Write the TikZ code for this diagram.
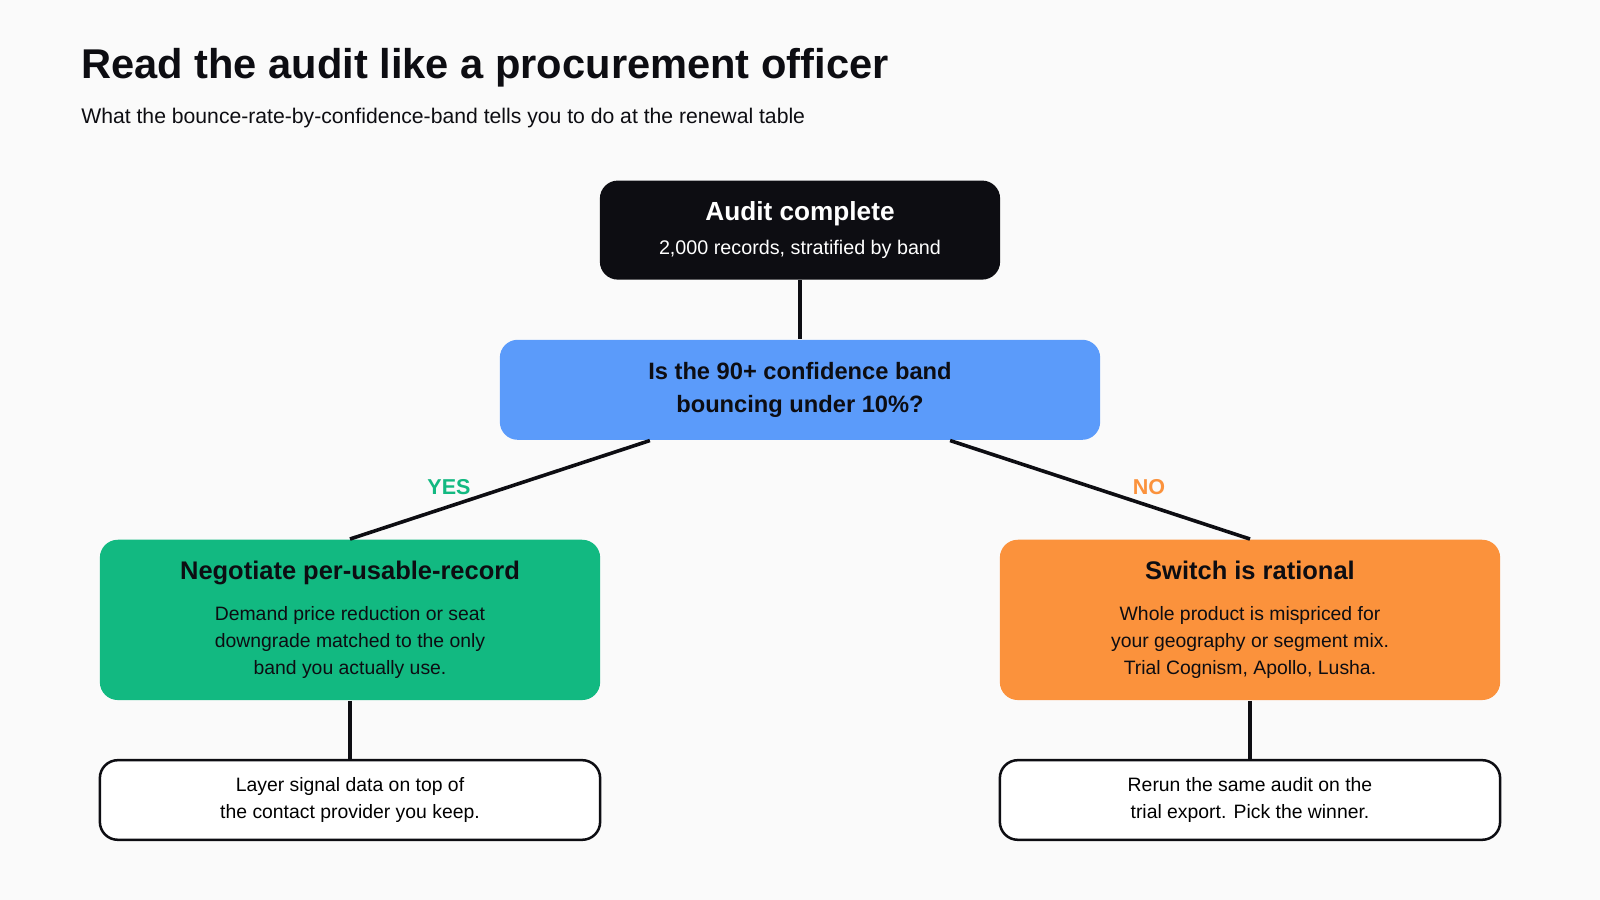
\documentclass[tikz,border=0pt]{standalone}
\usepackage{fontspec}
\setmainfont{Liberation Sans}
\usetikzlibrary{positioning}
\definecolor{bgc}{HTML}{FAFAFA}
\definecolor{inkc}{HTML}{0D0D12}
\definecolor{bluec}{HTML}{5B9BFA}
\definecolor{greenc}{HTML}{12B981}
\definecolor{orangec}{HTML}{FB923C}
\newcommand{\headfont}{\bfseries\fontsize{7.1}{9}\selectfont}
\newcommand{\bodyfont}{\fontsize{5.4}{7.5}\selectfont}
\tikzset{
  box/.style={rounded corners=5pt, align=center, inner sep=0pt},
  choice/.style={box, text=inkc, minimum width=4.9cm, minimum height=1.57cm, font=\bodyfont},
  leaf/.style={box, draw=inkc, line width=0.7pt, fill=white, minimum width=4.9cm, minimum height=0.78cm, font=\bodyfont},
  link/.style={draw=inkc, line width=1pt},
}
\begin{document}
\begin{tikzpicture}[x=0.01cm, y=-0.01cm]
\fill[bgc] (0,0) rectangle (1568,882);
\useasboundingbox (0,0) rectangle (1568,882);
\node[anchor=base west, inner sep=0pt, font=\bfseries\fontsize{11.6}{14}\selectfont, inkc] (title) at (79,77) {Read the audit like a procurement officer};
\node[anchor=base west, inner sep=0pt, font=\fontsize{5.9}{7}\selectfont, inkc] (sub) at (79,121) {What the bounce-rate-by-confidence-band tells you to do at the renewal table};
% nodes
\node[box, fill=inkc, text=white, minimum width=3.92cm, minimum height=0.97cm, font=\fontsize{5.5}{7}\selectfont] (audit) at (784,225.5)
  {{\bfseries\fontsize{7.3}{9}\selectfont Audit complete}\\[2.5pt]2,000 records, stratified by band};
\node[box, fill=bluec, text=inkc, minimum width=5.88cm, minimum height=0.98cm, font=\bfseries\fontsize{6.6}{9}\selectfont] (question) at (784,382)
  {Is the 90+ confidence band\\bouncing under 10\%?};
\node[choice, fill=greenc] (yes) at (343,607.5)
  {{\headfont Negotiate per-usable-record}\\[4pt]Demand price reduction or seat\\downgrade matched to the only\\band you actually use.};
\node[choice, fill=orangec] (no) at (1225,607.5)
  {{\headfont Switch is rational}\\[4pt]Whole product is mispriced for\\your geography or segment mix.\\Trial Cognism, Apollo, Lusha.};
\node[leaf] (keep) at (343,784) {Layer signal data on top of\\the contact provider you keep.};
\node[leaf] (rerun) at (1225,784) {Rerun the same audit on the\\trial export. Pick the winner.};
% connectors
\draw[link] (audit.south) -- (question.north);
\draw[link] ([xshift=-1.47cm]question.south) -- (yes.north);
\draw[link] ([xshift=1.47cm]question.south) -- (no.north);
\draw[link] (yes.south) -- (keep.north);
\draw[link] (no.south) -- (rerun.north);
\node[font=\bfseries\fontsize{6}{7}\selectfont, text=greenc] (yeslabel) at (440,477) {YES};
\node[font=\bfseries\fontsize{6}{7}\selectfont, text=orangec] (nolabel) at (1126,477) {NO};
\end{tikzpicture}
\end{document}
